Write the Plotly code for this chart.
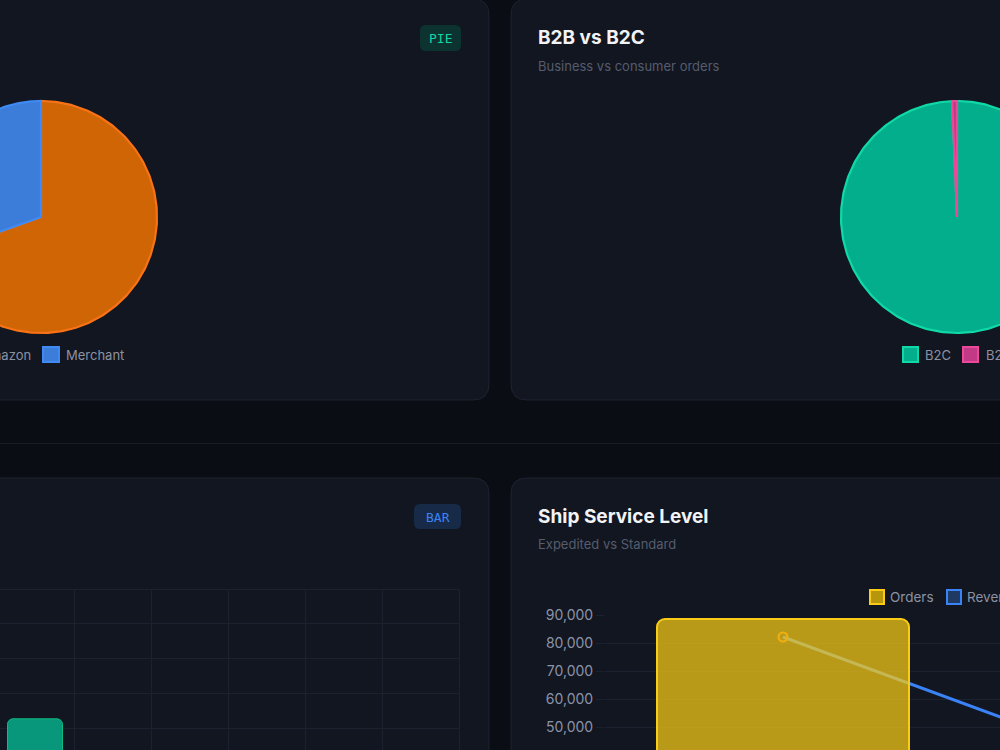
import numpy as np
import plotly.graph_objects as go

W, H = 1000, 750
FONT = "Inter"

# ---------------- data ----------------
fulfil_labels = ["Amazon", "Merchant"]
fulfil_values = [89698, 39277]

b2b_labels = ["B2C", "B2B"]
b2b_values = [128104, 871]

category_labels = ["Set", "kurta", "Western Dress", "Top", "Ethnic Dress",
                   "Blouse", "Bottom", "Saree", "Dupatta"]
category_orders = [50284, 49877, 15500, 10622, 1159, 926, 440, 164, 3]

ship_levels = ["Expedited", "Standard"]
ship_orders = [88615, 40360]
ship_revenue = [52.1, 26.3]  # INR millions (estimated)

# ---------------- styles ----------------
PAGE_BG = "#0a0d14"
CARD_BG = "#121620"
CARD_LINE = "#1f2330"
GRID = "#1c2130"
TITLE_C = "#f1f3f7"
SUB_C = "#555c6e"
LEG_C = "#8c92a4"
TICK_C = "#8c93a8"

fulfil_fill = ["#cf6505", "#3b7dd8"]
fulfil_line = ["#f97316", "#3f8af5"]
b2b_fill = ["#03ae8d", "#c23a86"]
b2b_line = ["#10d9a8", "#ec4899"]


def px(x):
    return x / W


def py(y):
    return 1 - y / H


def rrect_path(x0, y0, x1, y1, r):
    P = lambda x, y: f"{px(x):.5f},{py(y):.5f}"
    return (f"M {P(x0 + r, y0)} L {P(x1 - r, y0)} Q {P(x1, y0)} {P(x1, y0 + r)} "
            f"L {P(x1, y1 - r)} Q {P(x1, y1)} {P(x1 - r, y1)} "
            f"L {P(x0 + r, y1)} Q {P(x0, y1)} {P(x0, y1 - r)} "
            f"L {P(x0, y0 + r)} Q {P(x0, y0)} {P(x0 + r, y0)} Z")


shapes = []
annotations = []


def card(x0, y0, x1, y1):
    shapes.append(dict(type="path", xref="paper", yref="paper", layer="below",
                       path=rrect_path(x0, y0, x1, y1, 16),
                       fillcolor=CARD_BG, line=dict(color=CARD_LINE, width=1)))


def text(x, y, s, size, color, anchor="left", weight=None, family=FONT):
    f = dict(size=size, color=color, family=family)
    if weight:
        f["weight"] = weight
    annotations.append(dict(x=px(x), y=py(y), xref="paper", yref="paper", text=s,
                            showarrow=False, xanchor=anchor, yanchor="middle",
                            borderpad=0, borderwidth=0, font=f))


def badge(x0, y0, x1, y1, s, fill, color):
    shapes.append(dict(type="path", xref="paper", yref="paper", layer="below",
                       path=rrect_path(x0, y0, x1, y1, 6), fillcolor=fill,
                       line=dict(width=0)))
    text((x0 + x1) / 2, (y0 + y1) / 2 + 0.5, s, 13, color, anchor="center",
         family="DejaVu Sans Mono")


def legend_box(x0, y0, x1, y1, fill, line):
    shapes.append(dict(type="rect", xref="paper", yref="paper", layer="above",
                       x0=px(x0), x1=px(x1), y0=py(y1), y1=py(y0),
                       fillcolor=fill, line=dict(color=line, width=2)))


def hline(x0, x1, y, color):
    shapes.append(dict(type="line", xref="paper", yref="paper", layer="below",
                       x0=px(x0), x1=px(x1), y0=py(y), y1=py(y),
                       line=dict(color=color, width=1)))


def vline(x, y0, y1, color):
    shapes.append(dict(type="line", xref="paper", yref="paper", layer="below",
                       x0=px(x), x1=px(x), y0=py(y0), y1=py(y1),
                       line=dict(color=color, width=1)))


# page separator line
hline(0, W, 443.5, "#191d28")

# cards
card(-500, -1, 489, 400)
card(511, -1, 1500, 400)
card(-500, 478, 489, 1300)
card(511, 478, 1500, 1300)

# bar chart frame (top & right gridlines of the category chart)
hline(0, 459.5, 589.5, GRID)
vline(459.5, 589.5, 760, GRID)

# card headers
text(538, 38, "B2B vs B2C", 19, TITLE_C, weight=700)
text(538, 66, "Business vs consumer orders", 13, SUB_C)
text(538, 516, "Ship Service Level", 19, TITLE_C, weight=700)
text(538, 544, "Expedited vs Standard", 13, SUB_C)
badge(420, 25, 461, 51, "PIE", "#0c3330", "#14d3a4")
badge(414, 504, 461, 529, "BAR", "#172a48", "#3b82f6")

# legends
legend_box(-41, 347, -25, 362, fulfil_fill[0], fulfil_line[0])
text(31, 354.5, fulfil_labels[0], 13, LEG_C, anchor="right")
legend_box(43, 347, 59, 362, fulfil_fill[1], fulfil_line[1])
text(66, 354.5, fulfil_labels[1], 13, LEG_C)
legend_box(903, 347, 918, 362, b2b_fill[0], b2b_line[0])
text(925, 354.5, b2b_labels[0], 13, LEG_C)
legend_box(963, 347, 978, 362, b2b_fill[1], b2b_line[1])
text(986, 354.5, b2b_labels[1], 13, LEG_C)
legend_box(870, 590, 884, 604, "#b8960b", "#facc15")
text(890, 597, "Orders", 13.5, LEG_C)
legend_box(947, 590, 961, 604, "#1e3a64", "#3b82f6")
text(967, 597, "Revenue", 13.5, LEG_C)

fig = go.Figure()


# ---------------- pies (drawn on a pixel canvas axis so they can be cropped) ----
def add_pie(values, fills, lines, cx, cy, r):
    total = float(sum(values))
    start = 0.0
    for v, fc, lc in zip(values, fills, lines):
        frac = v / total
        th = np.linspace(start * 2 * np.pi, (start + frac) * 2 * np.pi,
                         max(6, int(frac * 360) + 2))
        xs = np.concatenate([[cx], cx + r * np.sin(th), [cx]])
        ys = np.concatenate([[cy], cy - r * np.cos(th), [cy]])
        fig.add_trace(go.Scatter(x=xs, y=ys, mode="lines", fill="toself",
                                 fillcolor=fc, line=dict(color=lc, width=2.2),
                                 hoverinfo="skip", showlegend=False,
                                 xaxis="x", yaxis="y"))
        start += frac


add_pie(fulfil_values, fulfil_fill, fulfil_line, 41, 217, 116)
add_pie(b2b_values, b2b_fill, b2b_line, 957, 217, 116)

# ---------------- category bar chart (bottom-left) ----------------
fig.add_trace(go.Bar(x=category_labels, y=category_orders, width=0.71,
                     marker=dict(color="#08977b", line=dict(color="#10b981", width=1),
                                 cornerradius=6),
                     showlegend=False, xaxis="x2", yaxis="y2"))

# ---------------- ship service level (bottom-right) ----------------
fig.add_trace(go.Scatter(x=ship_levels, y=ship_revenue, mode="lines+markers",
                         line=dict(color="#3b82f6", width=3),
                         marker=dict(symbol="circle-open", size=9, color="#d2640a",
                                     line=dict(width=2.2)),
                         showlegend=False, xaxis="x3", yaxis="y3"))
fig.add_trace(go.Bar(x=ship_levels, y=ship_orders, width=0.708,
                     marker=dict(color="rgba(250,204,21,0.72)",
                                 line=dict(color="#facc15", width=2),
                                 cornerradius=8),
                     showlegend=False, xaxis="x3", yaxis="y4"))

hidden = dict(showgrid=False, zeroline=False, showticklabels=False, showline=False,
              ticks="", fixedrange=True, automargin=False)

fig.update_layout(
    template="none",
    width=W, height=H,
    margin=dict(l=0, r=0, t=0, b=0, pad=0, autoexpand=False),
    paper_bgcolor=PAGE_BG,
    plot_bgcolor="rgba(0,0,0,0)",
    font=dict(family=FONT, color=LEG_C),
    showlegend=False,
    bargap=0,
    shapes=shapes,
    annotations=annotations,
    xaxis=dict(domain=[0, 1], range=[0, W], anchor="y", **hidden),
    yaxis=dict(domain=[0, 1], range=[H, 0], anchor="x", **hidden),
    xaxis2=dict(domain=[0, 0.4595], type="category", categoryorder="array",
                categoryarray=category_labels, range=[2.539, 8.5], anchor="y2",
                showgrid=True, gridcolor=GRID, gridwidth=1, tickson="boundaries",
                showticklabels=False, ticks="", zeroline=False, showline=False,
                fixedrange=True, automargin=False),
    yaxis2=dict(domain=[0, (H - 589.3) / H], range=[8420, 20000], anchor="x2",
                tick0=0, dtick=2500, showgrid=True, gridcolor=GRID, gridwidth=1,
                showticklabels=False, ticks="", zeroline=False, showline=False,
                fixedrange=True, automargin=False),
    xaxis3=dict(domain=[0.605, 1], type="category", categoryorder="array",
                categoryarray=ship_levels, range=[-0.5, -0.5 + 395 / 356],
                anchor="y3", showgrid=False, showticklabels=False, ticks="",
                zeroline=False, showline=False, fixedrange=True, automargin=False),
    yaxis3=dict(domain=[0, 0.18], range=[29.85, 56.43], anchor="x3", side="right",
                **hidden),
    yaxis4=dict(overlaying="y3", anchor="x3", side="left", range=[41786, 90001],
                tick0=0, dtick=10000, tickformat=",d", showgrid=True,
                gridcolor=GRID, gridwidth=1, ticks="outside", ticklen=8,
                tickcolor=GRID, zeroline=False, showline=False,
                tickfont=dict(size=14, color=TICK_C, family=FONT),
                fixedrange=True, automargin=False),
)

fig.write_html("out.html", config=dict(displayModeBar=False))
